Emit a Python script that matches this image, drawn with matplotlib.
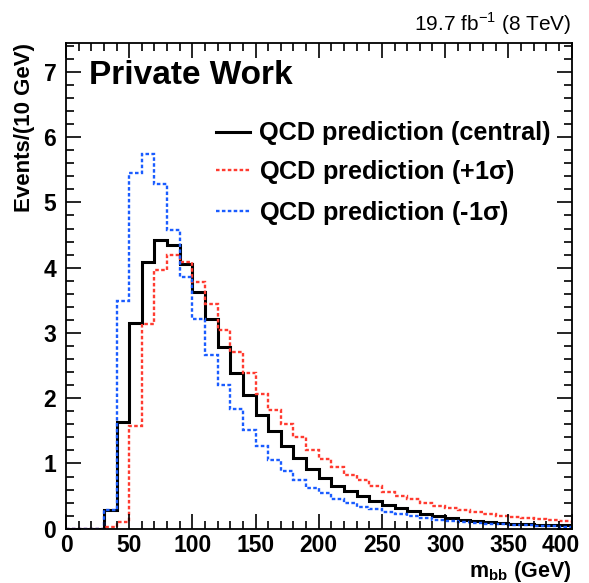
import numpy as np
import matplotlib.pyplot as plt
import matplotlib.transforms as mtransforms
from matplotlib.ticker import MultipleLocator

plt.rcParams['font.family'] = ['Liberation Sans', 'DejaVu Sans']
plt.rcParams['mathtext.fontset'] = 'custom'
plt.rcParams['mathtext.rm'] = 'Liberation Sans'
plt.rcParams['mathtext.bf'] = 'Liberation Sans:bold'

# m_bb bins, 10 GeV wide
edges = np.arange(0, 410, 10)

central = [0, 0, 0, 0.28, 1.64, 3.15, 4.08, 4.42, 4.35, 4.06,
           3.63, 3.21, 2.78, 2.39, 2.05, 1.75, 1.50, 1.26, 1.08, 0.92,
           0.77, 0.66, 0.58, 0.50, 0.43, 0.36, 0.31, 0.27, 0.23, 0.19,
           0.16, 0.14, 0.12, 0.11, 0.09, 0.08, 0.07, 0.06, 0.05, 0.05]

plus1 = [0, 0, 0, 0.02, 0.10, 1.57, 3.13, 3.97, 4.20, 4.09,
         3.78, 3.44, 3.05, 2.71, 2.38, 2.07, 1.82, 1.60, 1.40, 1.21,
         1.07, 0.94, 0.83, 0.74, 0.65, 0.57, 0.50, 0.45, 0.40, 0.35,
         0.31, 0.28, 0.25, 0.22, 0.20, 0.18, 0.16, 0.15, 0.14, 0.12]

minus1 = [0, 0, 0, 0.29, 3.49, 5.45, 5.74, 5.28, 4.58, 3.86,
          3.21, 2.66, 2.20, 1.83, 1.52, 1.26, 1.05, 0.89, 0.75, 0.62,
          0.54, 0.46, 0.39, 0.34, 0.30, 0.26, 0.23, 0.19, 0.16, 0.14,
          0.12, 0.10, 0.09, 0.08, 0.07, 0.06, 0.05, 0.04, 0.04, 0.03]

fig = plt.figure(figsize=(5.89, 5.83), dpi=100)
ax = fig.add_axes([0.1121, 0.0931, 0.8582, 0.834])

dots = (0, (1.5, 1))
ax.stairs(central, edges, color='black', linewidth=2.2,
          label='QCD prediction (central)')
ax.stairs(plus1, edges, color='#ff3b30', linewidth=1.7, linestyle=dots,
          label=r'QCD prediction (+1$\mathbf{\sigma}$)')
ax.stairs(minus1, edges, color='#1a5cff', linewidth=1.7, linestyle=dots,
          label=r'QCD prediction (-1$\mathbf{\sigma}$)')

ax.set_xlim(0, 400)
ax.set_ylim(0, 7.45)
ax.xaxis.set_major_locator(MultipleLocator(50))
ax.xaxis.set_minor_locator(MultipleLocator(10))
ax.yaxis.set_major_locator(MultipleLocator(1))
ax.yaxis.set_minor_locator(MultipleLocator(0.2))
ax.tick_params(which='both', direction='in', top=True, right=True, width=1.2)
ax.tick_params(which='major', length=11, labelsize=16.5)
ax.tick_params(axis='x', which='major', pad=4)
ax.tick_params(axis='y', which='major', pad=7)
ax.tick_params(which='minor', length=6)
for s in ax.spines.values():
    s.set_linewidth(1.3)

fig.canvas.draw()
for lab in ax.get_xticklabels() + ax.get_yticklabels():
    lab.set_fontweight('bold')
# keep the last x label inside the canvas, as in the reference
shift = mtransforms.ScaledTranslation(-11 / 100, 0, fig.dpi_scale_trans)
for tick in ax.xaxis.get_major_ticks():
    if tick.get_loc() == 400:
        tick.label1.set_transform(tick.label1.get_transform() + shift)

ax.set_xlabel(r'm$_{\mathbf{bb}}$ (GeV)', fontsize=15.5, fontweight='bold',
              loc='right', labelpad=1)
ax.set_ylabel('Events/(10 GeV)', fontsize=16, fontweight='bold',
              loc='top', labelpad=6)

ax.text(0.045, 0.932, 'Private Work', transform=ax.transAxes,
        fontsize=24, fontweight='bold', va='center')
ax.text(1.0, 1.012, r'19.7 fb$^{-1}$ (8 TeV)', transform=ax.transAxes,
        fontsize=15, ha='right', va='bottom')

leg = ax.legend(loc='upper right', bbox_to_anchor=(0.988, 0.869), frameon=False,
                fontsize=18.2, handlelength=1.35, labelspacing=0.5,
                handletextpad=0.35, borderaxespad=0.2)
for t in leg.get_texts():
    t.set_fontweight('bold')

fig.savefig('out.png', dpi=100)
